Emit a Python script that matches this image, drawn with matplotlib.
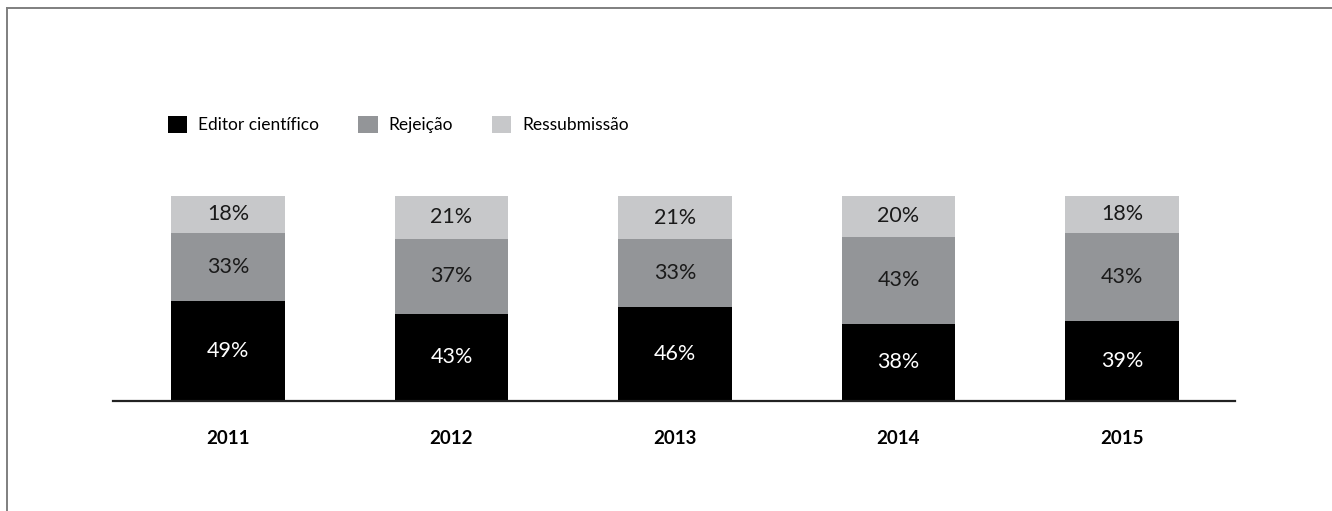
import numpy as np
import matplotlib
matplotlib.use("Agg")
import matplotlib.pyplot as plt
from matplotlib.patches import Patch
from matplotlib.lines import Line2D

plt.rcParams['font.family'] = ['Lato', 'DejaVu Sans']

# dados
anos = ['2011', '2012', '2013', '2014', '2015']
editor = [49, 43, 46, 38, 39]
rejeicao = [33, 37, 33, 43, 43]
ressub = [18, 21, 21, 20, 18]

cores = ['#000000', '#939598', '#c7c8ca']
nomes = ['Editor científico', 'Rejeição', 'Ressubmissão']

W, H = 1332, 511
fig = plt.figure(figsize=(W / 100, H / 100), dpi=100)
ax = fig.add_axes([113 / W, 1 - 401 / H, (1235 - 113) / W, (401 - 196) / H])

x = np.arange(len(anos))
tot = np.array(editor) + np.array(rejeicao) + np.array(ressub)
series = [np.array(editor), np.array(rejeicao), np.array(ressub)]
base = np.zeros(len(anos))
for s, cor in zip(series, cores):
    h = s / tot * 100
    ax.bar(x, h, bottom=base, width=0.51, color=cor, linewidth=0)
    for i in range(len(anos)):
        tc = 'white' if cor == '#000000' else '#1a1a1a'
        ax.text(x[i], base[i] + h[i] / 2, f'{s[i]}%', ha='center', va='center',
                fontsize=15.5, color=tc)
    base = base + h

ax.set_xlim(-0.5145, 4.5056)
ax.set_ylim(0, 100)
for sp in ['top', 'right', 'left']:
    ax.spines[sp].set_visible(False)
ax.spines['bottom'].set_color('#222222')
ax.spines['bottom'].set_linewidth(1.6)
ax.set_yticks([])
ax.set_xticks(x)
ax.set_xticklabels(anos, fontsize=13.5, fontweight='bold')
ax.tick_params(axis='x', length=0, pad=21)

handles = [Patch(facecolor=c, edgecolor='none') for c in cores]
fig.legend(handles, nomes, loc='upper left', bbox_to_anchor=(168 / W, 1 - 116 / H),
           ncol=3, frameon=False, fontsize=12.5, handlelength=1.1, handleheight=1.1,
           handletextpad=0.6, columnspacing=2.3, borderaxespad=0, borderpad=0)

# moldura
fig.add_artist(Line2D([7 / W, 7 / W], [0, 1 - 8 / H], transform=fig.transFigure,
                      color='#7f7f7f', lw=1.4))
fig.add_artist(Line2D([7 / W, 1], [1 - 8 / H, 1 - 8 / H], transform=fig.transFigure,
                      color='#7f7f7f', lw=1.4))

fig.savefig('out.png', dpi=100)
